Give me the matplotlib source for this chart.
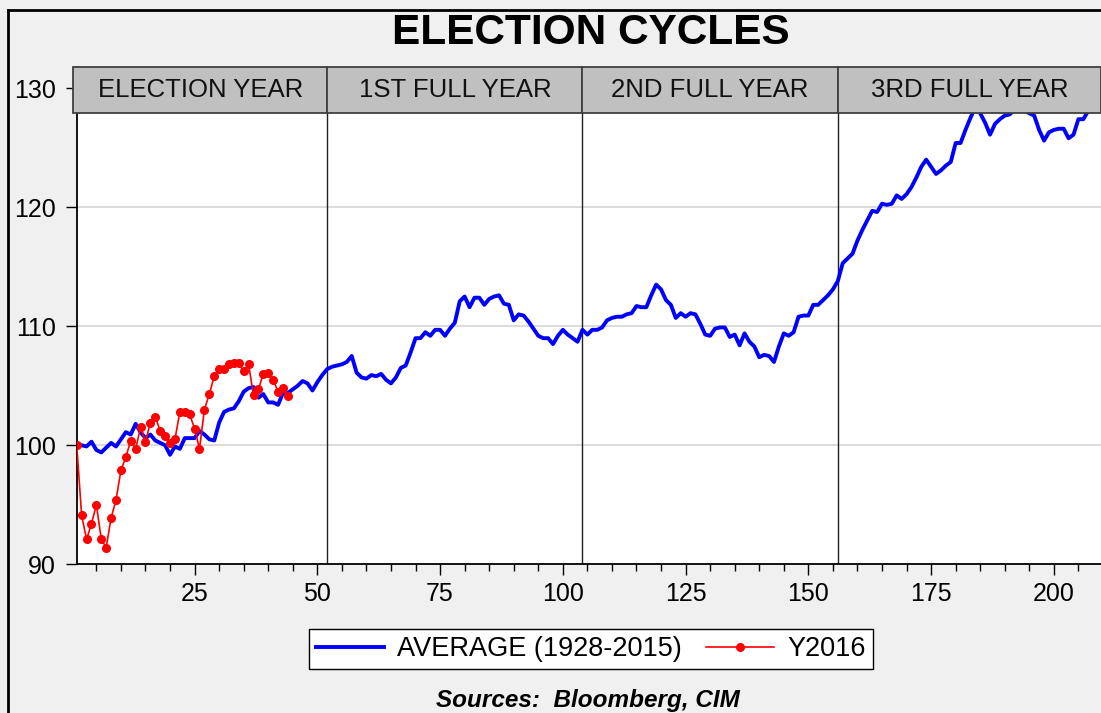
import numpy as np
import matplotlib.pyplot as plt
from matplotlib.patches import Rectangle
from matplotlib.lines import Line2D
from matplotlib.ticker import MultipleLocator

plt.rcParams['font.family'] = ['Liberation Sans', 'DejaVu Sans']

# weekly index of the 4 year presidential cycle (52 weeks per year)
weeks = np.arange(1, 209)

# average of all cycles 1928-2015, start of election year = 100
average = [
    100.0, 100.0, 99.9, 100.3, 99.6, 99.4, 99.8, 100.2, 99.9, 100.5,
    101.1, 100.9, 101.8, 101.1, 100.6, 100.9, 100.4, 100.2, 100.0, 99.2,
    99.9, 99.7, 100.6, 100.6, 100.6, 101.2, 100.9, 100.5, 100.4, 101.9,
    102.8, 103.0, 103.1, 103.7, 104.5, 104.8, 104.9, 104.0, 104.3, 103.6,
    103.6, 103.4, 104.4, 104.4, 104.7, 105.0, 105.4, 105.2, 104.6, 105.3,
    105.9, 106.4, 106.6, 106.7, 106.8, 107.0, 107.5, 106.1, 105.7, 105.6,
    105.9, 105.8, 106.0, 105.5, 105.2, 105.7, 106.5, 106.7, 107.8, 109.0,
    109.0, 109.5, 109.2, 109.7, 109.7, 109.2, 109.8, 110.3, 112.1, 112.5,
    111.6, 112.4, 112.4, 111.8, 112.3, 112.5, 112.6, 111.9, 111.8, 110.5,
    111.0, 110.9, 110.4, 109.8, 109.2, 109.0, 109.0, 108.5, 109.2, 109.7,
    109.3, 109.0, 108.7, 109.7, 109.3, 109.7, 109.7, 109.9, 110.5, 110.7,
    110.8, 110.8, 111.0, 111.1, 111.7, 111.6, 111.6, 112.6, 113.5, 113.1,
    112.2, 111.8, 110.7, 111.1, 110.8, 111.1, 111.0, 110.2, 109.3, 109.2,
    109.8, 109.9, 109.9, 109.1, 109.3, 108.4, 109.4, 108.7, 108.3, 107.4,
    107.6, 107.5, 107.0, 108.3, 109.4, 109.2, 109.5, 110.8, 110.9, 110.9,
    111.8, 111.8, 112.2, 112.6, 113.1, 113.8, 115.3, 115.7, 116.1, 117.2,
    118.1, 118.9, 119.7, 119.6, 120.3, 120.2, 120.3, 121.0, 120.7, 121.1,
    121.7, 122.5, 123.4, 124.0, 123.4, 122.8, 123.1, 123.5, 123.8, 125.4,
    125.4, 126.5, 127.5, 128.4, 127.9, 127.1, 126.1, 127.0, 127.4, 127.7,
    127.8, 128.2, 128.2, 128.1, 127.9, 127.7, 126.5, 125.6, 126.3, 126.5,
    126.6, 126.6, 125.8, 126.1, 127.4, 127.4, 128.1, 128.8,
]

# 2016 so far
weeks_2016 = np.arange(1, 45)
y2016 = [
    100.0, 94.1, 92.1, 93.4, 95.0, 92.1, 91.4, 93.9, 95.4, 97.9,
    99.0, 100.4, 99.7, 101.5, 100.3, 101.9, 102.4, 101.2, 100.8, 100.2,
    100.5, 102.8, 102.8, 102.6, 101.4, 99.7, 103.0, 104.3, 105.8, 106.4,
    106.4, 106.8, 106.9, 106.9, 106.2, 106.8, 104.2, 104.7, 106.0, 106.1,
    105.5, 104.5, 104.8, 104.1,
]

cycle_labels = ["ELECTION YEAR", "1ST FULL YEAR", "2ND FULL YEAR", "3RD FULL YEAR"]
year_ends = [52, 104, 156]

fig = plt.figure(figsize=(11.01, 7.13), dpi=100, facecolor="#f0f0f0")
ax = fig.add_axes([0.0697, 0.2086, 0.9303, 0.6975])
ax.set_facecolor("white")

ax.set_xlim(1, 209.6)
ax.set_ylim(90, 131.79)

# horizontal grid and year separators
for v in [100, 110, 120, 130]:
    ax.axhline(v, color="#d6d6d6", lw=1.2, zorder=1)
for x in year_ends:
    ax.axvline(x, color="#222222", lw=1.0, zorder=1)

avg_line, = ax.plot(weeks, average, color="#0000ff", lw=2.8, zorder=3,
                    solid_joinstyle="round")
red_line, = ax.plot(weeks_2016, y2016, color="#ff0000", lw=1.2, marker="o",
                    markersize=5.5, zorder=4)

# grey header boxes on top of the plot, one per year of the cycle
edges = [0.3] + year_ends + [209.6]
for i, label in enumerate(cycle_labels):
    ax.add_patch(Rectangle((edges[i], 0.907), edges[i + 1] - edges[i], 0.093,
                           transform=ax.get_xaxis_transform(), clip_on=False,
                           facecolor="#c0c0c0", edgecolor="#404040", lw=1.3,
                           zorder=6))
    ax.text((edges[i] + edges[i + 1]) / 2, 0.953, label,
            transform=ax.get_xaxis_transform(), ha="center", va="center",
            fontsize=18.5, color="#111111", zorder=7)

# axes styling
for s in ["top", "right"]:
    ax.spines[s].set_visible(False)
for s in ["left", "bottom"]:
    ax.spines[s].set_linewidth(1.3)
ax.set_yticks([90, 100, 110, 120, 130])
ax.xaxis.set_major_locator(MultipleLocator(25))
ax.xaxis.set_minor_locator(MultipleLocator(5))
ax.tick_params(axis="both", which="major", labelsize=18, length=8, width=1,
               direction="out")
ax.tick_params(axis="x", which="major", pad=5)
ax.tick_params(axis="y", which="major", pad=7)
ax.tick_params(axis="x", which="minor", length=5, width=1)

fig.text(591 / 1101, 1 - 44 / 713, "ELECTION CYCLES", ha="center",
         va="baseline", fontsize=30.5, fontweight="bold")

fig.legend([avg_line, red_line], ["AVERAGE (1928-2015)", "Y2016"],
           loc="center", bbox_to_anchor=(591 / 1101, 1 - 649 / 713), ncol=2,
           fontsize=19.5, frameon=True, fancybox=False, framealpha=1,
           edgecolor="black", handlelength=2.5, columnspacing=0.9,
           borderpad=0.25, handletextpad=0.5, borderaxespad=0)

# source line sits at the very bottom edge of the picture
fig.text(588 / 1101, 1 - 707 / 713, "Sources:  Bloomberg, CIM", ha="center",
         va="baseline", fontsize=17.5, fontweight="bold", fontstyle="italic")

# outer frame (only left and top edges are visible in the crop)
fig.add_artist(Line2D([8 / 1101, 8 / 1101], [0, 1 - 9.5 / 713], color="black",
                      lw=2, transform=fig.transFigure))
fig.add_artist(Line2D([8 / 1101, 1], [1 - 9.5 / 713, 1 - 9.5 / 713],
                      color="black", lw=2, transform=fig.transFigure))

fig.savefig("out.png", dpi=100, facecolor=fig.get_facecolor())
